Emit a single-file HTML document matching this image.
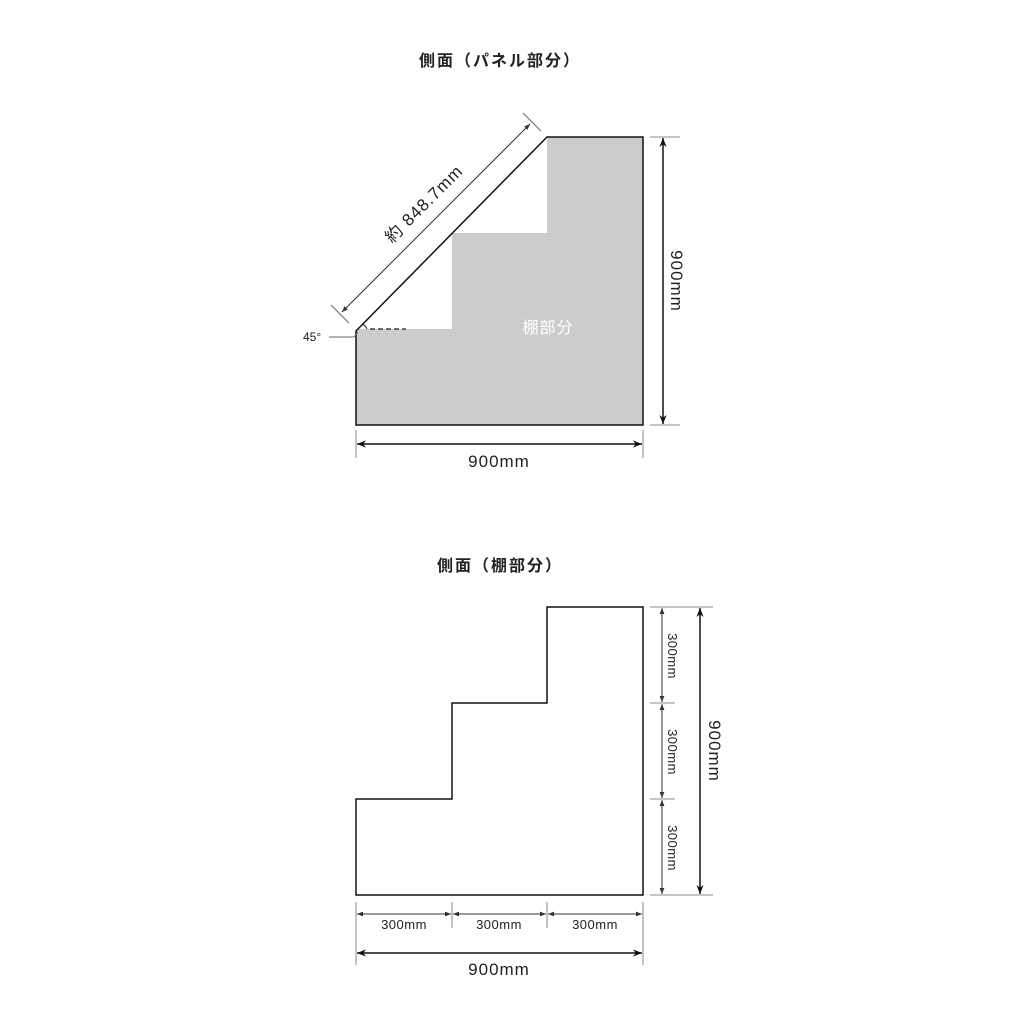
<!DOCTYPE html>
<html><head><meta charset="utf-8"><style>
html,body{margin:0;padding:0;background:#fff;width:1033px;height:1033px;overflow:hidden}
svg text{font-family:"Liberation Sans","Noto Sans CJK JP",sans-serif;fill:#222}
</style></head><body>
<svg width="1033" height="1033" viewBox="0 0 1033 1033" xmlns="http://www.w3.org/2000/svg">
<defs>
<marker id="a" viewBox="0 0 10 10" refX="10" refY="5" markerWidth="9" markerHeight="9" orient="auto-start-reverse" markerUnits="userSpaceOnUse"><path d="M0,1 L10,5 L0,9 L3,5z" fill="#111"/></marker>
<marker id="s" viewBox="0 0 10 10" refX="10" refY="5" markerWidth="6" markerHeight="6" orient="auto-start-reverse" markerUnits="userSpaceOnUse"><path d="M0,1 L10,5 L0,9z" fill="#333"/></marker>
</defs>
<text x="500" y="66" font-size="16" font-weight="bold" text-anchor="middle" letter-spacing="2">側面（パネル部分）</text>
<!-- top shape -->
<polygon points="356,329 452,329 452,233 547,233 547,137 643,137 643,425 356,425" fill="#cccccc"/>
<path d="M356,331 L547,137 L643,137 L643,425 L356,425 Z" fill="none" stroke="#111" stroke-width="1.5"/>
<line x1="370" y1="329" x2="406" y2="329" stroke="#222" stroke-width="1.3" stroke-dasharray="5,3"/>
<path d="M362,324 A8,8 0 0 1 367,329" fill="none" stroke="#222" stroke-width="1"/>
<line x1="329" y1="337" x2="354" y2="337" stroke="#666" stroke-width="1"/>
<line x1="354" y1="337" x2="358" y2="332" stroke="#666" stroke-width="1"/>
<text x="303" y="341" font-size="12">45°</text>
<text x="548" y="333" font-size="16" text-anchor="middle" style="fill:#fff" letter-spacing="1">棚部分</text>
<!-- diagonal dim -->
<line x1="331" y1="305" x2="349" y2="323" stroke="#666" stroke-width="1"/>
<line x1="523" y1="113" x2="541" y2="131" stroke="#666" stroke-width="1"/>
<line x1="342" y1="312" x2="530" y2="124" stroke="#333" stroke-width="1" marker-start="url(#s)" marker-end="url(#s)"/>
<text transform="translate(428,208) rotate(-45)" font-size="17" text-anchor="middle" letter-spacing="1">約 848.7mm</text>
<!-- right dim -->
<line x1="650" y1="137" x2="680" y2="137" stroke="#888" stroke-width="1"/>
<line x1="650" y1="425" x2="680" y2="425" stroke="#888" stroke-width="1"/>
<line x1="663" y1="138" x2="663" y2="424" stroke="#111" stroke-width="1.5" marker-start="url(#a)" marker-end="url(#a)"/>
<text transform="translate(671,281) rotate(90)" font-size="17" text-anchor="middle" letter-spacing="1">900mm</text>
<!-- bottom dim -->
<line x1="356" y1="430" x2="356" y2="458" stroke="#888" stroke-width="1"/>
<line x1="643" y1="430" x2="643" y2="458" stroke="#888" stroke-width="1"/>
<line x1="357" y1="444" x2="642" y2="444" stroke="#111" stroke-width="1.5" marker-start="url(#a)" marker-end="url(#a)"/>
<text x="499" y="467" font-size="17" text-anchor="middle" letter-spacing="1">900mm</text>

<!-- bottom diagram -->
<text x="500" y="571" font-size="16" font-weight="bold" text-anchor="middle" letter-spacing="2">側面（棚部分）</text>
<path d="M356,799 L452,799 L452,703 L547,703 L547,607 L643,607 L643,895 L356,895 Z" fill="#fff" stroke="#111" stroke-width="1.5"/>
<g stroke="#888" stroke-width="1">
<line x1="650" y1="607" x2="713" y2="607"/><line x1="650" y1="703" x2="675" y2="703"/><line x1="650" y1="799" x2="675" y2="799"/><line x1="650" y1="895" x2="713" y2="895"/>
<line x1="356" y1="902" x2="356" y2="965"/><line x1="452" y1="902" x2="452" y2="928"/><line x1="547" y1="902" x2="547" y2="928"/><line x1="643" y1="902" x2="643" y2="965"/>
</g>
<g stroke="#333" stroke-width="1">
<line x1="662" y1="608" x2="662" y2="702" marker-start="url(#s)" marker-end="url(#s)"/>
<line x1="662" y1="704" x2="662" y2="798" marker-start="url(#s)" marker-end="url(#s)"/>
<line x1="662" y1="800" x2="662" y2="894" marker-start="url(#s)" marker-end="url(#s)"/>
<line x1="357" y1="914" x2="451" y2="914" marker-start="url(#s)" marker-end="url(#s)"/>
<line x1="453" y1="914" x2="546" y2="914" marker-start="url(#s)" marker-end="url(#s)"/>
<line x1="548" y1="914" x2="642" y2="914" marker-start="url(#s)" marker-end="url(#s)"/>
</g>
<text transform="translate(668,656) rotate(90)" font-size="13" text-anchor="middle" letter-spacing="0.5">300mm</text>
<text transform="translate(668,752) rotate(90)" font-size="13" text-anchor="middle" letter-spacing="0.5">300mm</text>
<text transform="translate(668,848) rotate(90)" font-size="13" text-anchor="middle" letter-spacing="0.5">300mm</text>
<text x="404" y="929" font-size="13" text-anchor="middle" letter-spacing="0.5">300mm</text>
<text x="499" y="929" font-size="13" text-anchor="middle" letter-spacing="0.5">300mm</text>
<text x="595" y="929" font-size="13" text-anchor="middle" letter-spacing="0.5">300mm</text>
<line x1="700" y1="608" x2="700" y2="894" stroke="#111" stroke-width="1.5" marker-start="url(#a)" marker-end="url(#a)"/>
<text transform="translate(709,751) rotate(90)" font-size="17" text-anchor="middle" letter-spacing="1">900mm</text>
<line x1="357" y1="953" x2="642" y2="953" stroke="#111" stroke-width="1.5" marker-start="url(#a)" marker-end="url(#a)"/>
<text x="499" y="975" font-size="17" text-anchor="middle" letter-spacing="1">900mm</text>
</svg>
</body></html>
